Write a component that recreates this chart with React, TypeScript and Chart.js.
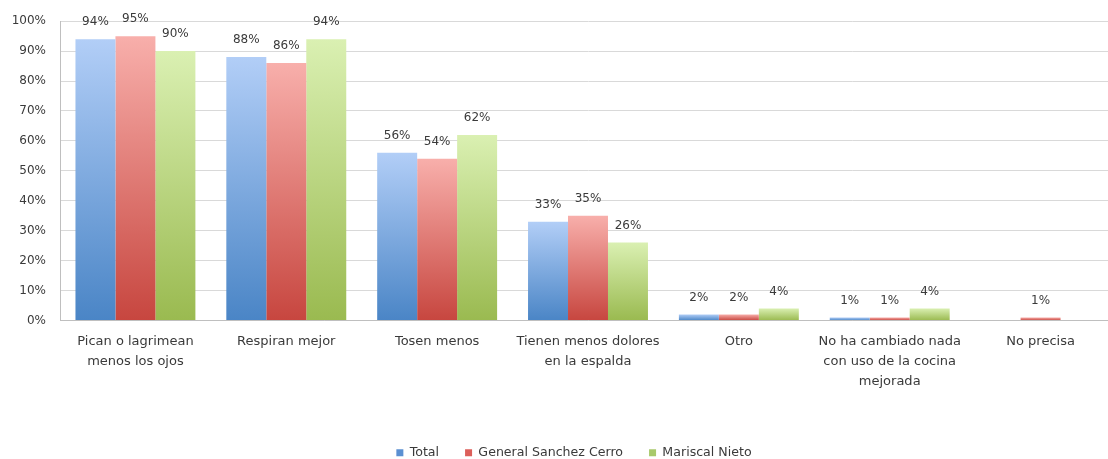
import React, { useEffect, useRef } from "react";
import { Chart, registerables } from "chart.js";

Chart.register(...registerables);

const categories: (string | string[])[] = [
  ["Pican o lagrimean", "menos los ojos"],
  "Respiran mejor",
  "Tosen menos",
  ["Tienen menos dolores", "en la espalda"],
  "Otro",
  ["No ha cambiado nada", "con uso de la cocina", "mejorada"],
  "No precisa",
];

const seriesNames = ["Total", "General Sanchez Cerro", "Mariscal Nieto"];
const totalValues = [94, 88, 56, 33, 2, 1, 0];
const sanchezCerroValues = [95, 86, 54, 35, 2, 1, 1];
const mariscalNietoValues = [90, 94, 62, 26, 4, 4, 0];
const yTicks = [0, 10, 20, 30, 40, 50, 60, 70, 80, 90, 100];

const gradientStops = [
  ["#b2cef7", "#4a85c6"],
  ["#f8afab", "#c7463f"],
  ["#daf0b2", "#9aba50"],
];
const legendColors = ["#5b90d2", "#dc5f5a", "#a8c96b"];

const FONT = "'DejaVu Sans', sans-serif";
const TEXT = "#3a3a3a";

export default function App() {
  const ref = useRef<HTMLCanvasElement | null>(null);

  useEffect(() => {
    const canvas = ref.current;
    if (!canvas) return;

    const makeBg = (idx: number) => (ctx: any) => {
      const chart = ctx.chart;
      const y = chart.scales?.y;
      if (!y || ctx.type !== "data") return gradientStops[idx][1];
      const v = ctx.raw as number;
      const top = y.getPixelForValue(v);
      const bottom = y.getPixelForValue(0);
      if (!isFinite(top) || !isFinite(bottom) || top === bottom) return gradientStops[idx][1];
      const g = chart.ctx.createLinearGradient(0, top, 0, bottom);
      g.addColorStop(0, gradientStops[idx][0]);
      g.addColorStop(1, gradientStops[idx][1]);
      return g;
    };

    const valueLabels = {
      id: "valueLabels",
      afterDatasetsDraw(chart: any) {
        const c = chart.ctx;
        c.save();
        c.font = `12px ${FONT}`;
        c.fillStyle = TEXT;
        c.textAlign = "center";
        c.textBaseline = "middle";
        chart.data.datasets.forEach((ds: any, di: number) => {
          const meta = chart.getDatasetMeta(di);
          meta.data.forEach((el: any, i: number) => {
            const v = ds.data[i];
            if (!v) return;
            c.fillText(`${v}%`, el.x, el.y - 17);
          });
        });
        c.restore();
      },
    };

    const shiftLegend = {
      id: "shiftLegend",
      afterLayout(chart: any) {
        const lg = chart.legend;
        if (lg) {
          lg.left += 32;
          lg.top -= 3;
          lg.bottom -= 3;
        }
      },
    };

    const allSeries = [totalValues, sanchezCerroValues, mariscalNietoValues];

    const chart = new Chart(canvas, {
      type: "bar",
      data: {
        labels: categories,
        datasets: allSeries.map((vals, idx) => ({
          label: seriesNames[idx],
          data: vals,
          backgroundColor: makeBg(idx),
          borderWidth: 0,
          categoryPercentage: 0.795,
          barPercentage: 1,
        })),
      },
      options: {
        responsive: false,
        animation: false,
        devicePixelRatio: 1,
        layout: { padding: { top: 20, right: 4, left: 0, bottom: 0 } },
        plugins: {
          tooltip: { enabled: false },
          legend: {
            position: "bottom",
            labels: {
              font: { family: FONT, size: 12.6 },
              color: TEXT,
              boxWidth: 7,
              boxHeight: 7,
              padding: 26,
              generateLabels: () =>
                seriesNames.map((n, i) => ({
                  text: n,
                  fillStyle: legendColors[i],
                  strokeStyle: legendColors[i],
                  lineWidth: 0,
                  hidden: false,
                  datasetIndex: i,
                  fontColor: TEXT,
                })),
            },
          },
        },
        scales: {
          x: {
            grid: { display: false, drawTicks: false },
            border: { display: true, color: "#bfbfbf", width: 1 },
            ticks: {
              font: { family: FONT, size: 13, lineHeight: 1.54 },
              color: TEXT,
              padding: 11,
              maxRotation: 0,
              autoSkip: false,
            },
            afterFit: (s: any) => {
              s.height = 103;
            },
          },
          y: {
            min: 0,
            max: 100,
            afterBuildTicks: (s: any) => {
              s.ticks = yTicks.map((v) => ({ value: v }));
            },
            grid: { color: "#d9d9d9", drawTicks: false },
            border: { display: true, color: "#bfbfbf", width: 1 },
            ticks: {
              font: { family: FONT, size: 12 },
              color: TEXT,
              padding: 14,
              callback: (v: any) => `${v}%`,
            },
            afterFit: (s: any) => {
              s.width = 60;
            },
          },
        },
      },
      plugins: [valueLabels, shiftLegend],
    });

    return () => chart.destroy();
  }, []);

  return (
    <div style={{ position: "fixed", left: 0, top: 0, width: "100vw", height: "100vh", overflow: "hidden", background: "#fff" }}>
      <canvas ref={ref} width={1120} height={472} style={{ display: "block", width: 1120, height: 472 }} />
    </div>
  );
}
